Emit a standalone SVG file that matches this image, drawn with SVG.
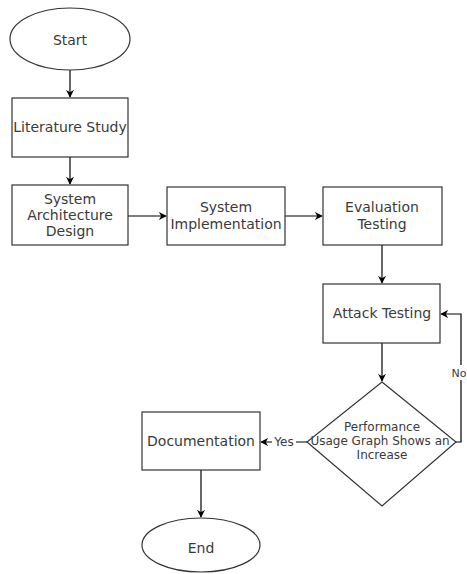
<svg xmlns="http://www.w3.org/2000/svg" width="467" height="574" viewBox="0 0 467 574">
<style>
.n{fill:#fff;stroke:#333;stroke-width:1.2}
.t{font-family:"DejaVu Sans",sans-serif;font-size:14px;fill:#3a3a3a;text-anchor:middle;dominant-baseline:central}
.s{font-size:12px}
.c{fill:none;stroke:#000;stroke-width:1.2}
</style>
<defs>
<marker id="a" viewBox="0 0 10 10" refX="9" refY="5" markerWidth="8" markerHeight="8" markerUnits="userSpaceOnUse" orient="auto">
<path d="M0,0 L10,5 L0,10 L3,5 Z" fill="#000"/>
</marker>
</defs>
<rect width="467" height="574" fill="#fff"/>
<g id="connectors">
<line class="c" x1="70" y1="70" x2="70" y2="97" marker-end="url(#a)"/>
<line class="c" x1="70" y1="157" x2="70" y2="184" marker-end="url(#a)"/>
<line class="c" x1="128" y1="216" x2="166" y2="216" marker-end="url(#a)"/>
<line class="c" x1="285" y1="216" x2="322" y2="216" marker-end="url(#a)"/>
<line class="c" x1="382" y1="245" x2="382" y2="283" marker-end="url(#a)"/>
<line class="c" x1="382" y1="343" x2="382" y2="381" marker-end="url(#a)"/>
<polyline class="c" points="456,442 461,442 461,314 441,314" marker-end="url(#a)"/>
<line class="c" x1="307" y1="442" x2="261" y2="442" marker-end="url(#a)"/>
<line class="c" x1="201" y1="470" x2="201" y2="517" marker-end="url(#a)"/>
<rect x="272" y="434" width="24" height="15" fill="#fff"/>
<text class="t s" x="284" y="442">Yes</text>
<rect x="452" y="365" width="15" height="15" fill="#fff"/>
<text class="t" style="font-size:11px" x="459" y="373">No</text>
</g>
<g id="start">
<ellipse class="n" cx="70" cy="39" rx="60" ry="31"/>
<text class="t" x="70" y="40">Start</text>
</g>
<g id="literature">
<rect class="n" x="12" y="98" width="116" height="59"/>
<text class="t" x="70" y="127">Literature Study</text>
</g>
<g id="architecture">
<rect class="n" x="12" y="185" width="116" height="60"/>
<text class="t" x="70" y="199">System</text>
<text class="t" x="70" y="215">Architecture</text>
<text class="t" x="70" y="231">Design</text>
</g>
<g id="implementation">
<rect class="n" x="167" y="187" width="118" height="58"/>
<text class="t" x="226" y="207">System</text>
<text class="t" x="226" y="224">Implementation</text>
</g>
<g id="evaluation">
<rect class="n" x="323" y="187" width="119" height="58"/>
<text class="t" x="382" y="207">Evaluation</text>
<text class="t" x="382" y="224">Testing</text>
</g>
<g id="attack">
<rect class="n" x="323" y="284" width="117" height="59"/>
<text class="t" x="382" y="313">Attack Testing</text>
</g>
<g id="decision">
<polygon class="n" points="382,382 456,442 382,506 307,442"/>
<text class="t s" x="382" y="427">Performance</text>
<text class="t s" x="380" y="441">Usage Graph Shows an</text>
<text class="t s" x="382" y="455">Increase</text>
</g>
<g id="documentation">
<rect class="n" x="142" y="412" width="118" height="58"/>
<text class="t" x="201" y="441">Documentation</text>
</g>
<g id="end">
<ellipse class="n" cx="201" cy="545" rx="59" ry="27"/>
<text class="t" x="201" y="548">End</text>
</g>
</svg>
